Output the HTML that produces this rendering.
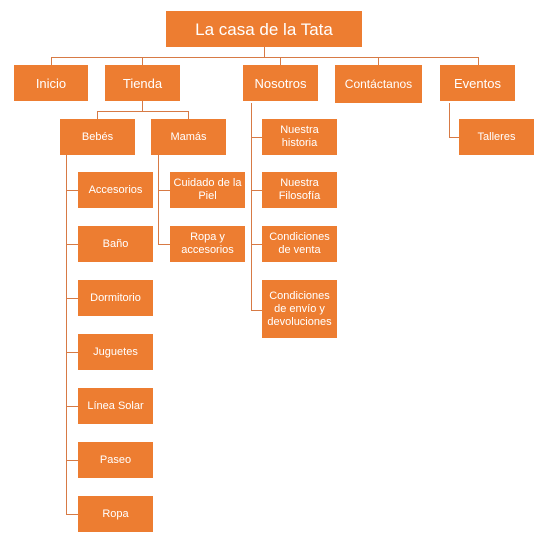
<!DOCTYPE html><html><head><meta charset="utf-8"><style>
body{margin:0;width:540px;height:537px;background:#fff;position:relative;font-family:"Liberation Sans",sans-serif;overflow:hidden}
.b{position:absolute;background:#ED7D31;color:#fff;display:flex;align-items:center;justify-content:center;text-align:center;font-size:11px;line-height:13px}
.l{position:absolute;background:#D77A45}
</style></head><body>
<div class="b" style="left:166px;top:11px;width:196px;height:36px;font-size:17px">La casa de la Tata</div>
<div class="l" style="left:264px;top:47px;width:1px;height:11px"></div>
<div class="l" style="left:51px;top:57px;width:428px;height:1px"></div>
<div class="l" style="left:51px;top:57px;width:1px;height:8px"></div>
<div class="l" style="left:142px;top:57px;width:1px;height:8px"></div>
<div class="l" style="left:280px;top:57px;width:1px;height:8px"></div>
<div class="l" style="left:378px;top:57px;width:1px;height:8px"></div>
<div class="l" style="left:478px;top:57px;width:1px;height:8px"></div>
<div class="b" style="left:14px;top:65px;width:74px;height:36px;font-size:13px">Inicio</div>
<div class="b" style="left:105px;top:65px;width:75px;height:36px;font-size:13px">Tienda</div>
<div class="b" style="left:243px;top:65px;width:75px;height:36px;font-size:13px">Nosotros</div>
<div class="b" style="left:335px;top:65px;width:87px;height:38px;font-size:12px">Contáctanos</div>
<div class="b" style="left:440px;top:65px;width:75px;height:36px;font-size:13px">Eventos</div>
<div class="l" style="left:142px;top:101px;width:1px;height:11px"></div>
<div class="l" style="left:97px;top:111px;width:92px;height:1px"></div>
<div class="l" style="left:97px;top:111px;width:1px;height:8px"></div>
<div class="l" style="left:188px;top:111px;width:1px;height:8px"></div>
<div class="b" style="left:60px;top:119px;width:75px;height:36px">Bebés</div>
<div class="b" style="left:151px;top:119px;width:75px;height:36px">Mamás</div>
<div class="l" style="left:66px;top:155px;width:1px;height:359px"></div>
<div class="l" style="left:158px;top:155px;width:1px;height:89px"></div>
<div class="l" style="left:251px;top:103px;width:1px;height:207px"></div>
<div class="l" style="left:449px;top:103px;width:1px;height:34px"></div>
<div class="l" style="left:449px;top:137px;width:10px;height:1px"></div>
<div class="b" style="left:459px;top:119px;width:75px;height:36px">Talleres</div>
<div class="l" style="left:66px;top:190px;width:12px;height:1px"></div><div class="b" style="left:78px;top:172px;width:75px;height:36px">Accesorios</div>
<div class="l" style="left:66px;top:244px;width:12px;height:1px"></div><div class="b" style="left:78px;top:226px;width:75px;height:36px">Baño</div>
<div class="l" style="left:66px;top:298px;width:12px;height:1px"></div><div class="b" style="left:78px;top:280px;width:75px;height:36px">Dormitorio</div>
<div class="l" style="left:66px;top:352px;width:12px;height:1px"></div><div class="b" style="left:78px;top:334px;width:75px;height:36px">Juguetes</div>
<div class="l" style="left:66px;top:406px;width:12px;height:1px"></div><div class="b" style="left:78px;top:388px;width:75px;height:36px">Línea Solar</div>
<div class="l" style="left:66px;top:460px;width:12px;height:1px"></div><div class="b" style="left:78px;top:442px;width:75px;height:36px">Paseo</div>
<div class="l" style="left:66px;top:514px;width:12px;height:1px"></div><div class="b" style="left:78px;top:496px;width:75px;height:36px">Ropa</div>
<div class="l" style="left:158px;top:190px;width:12px;height:1px"></div><div class="b" style="left:170px;top:172px;width:75px;height:36px">Cuidado de la Piel</div>
<div class="l" style="left:158px;top:244px;width:12px;height:1px"></div><div class="b" style="left:170px;top:226px;width:75px;height:36px">Ropa y accesorios</div>
<div class="l" style="left:251px;top:137px;width:11px;height:1px"></div><div class="b" style="left:262px;top:119px;width:75px;height:36px">Nuestra historia</div>
<div class="l" style="left:251px;top:190px;width:11px;height:1px"></div><div class="b" style="left:262px;top:172px;width:75px;height:36px">Nuestra Filosofía</div>
<div class="l" style="left:251px;top:244px;width:11px;height:1px"></div><div class="b" style="left:262px;top:226px;width:75px;height:36px">Condiciones de venta</div>
<div class="l" style="left:251px;top:310px;width:11px;height:1px"></div><div class="b" style="left:262px;top:280px;width:75px;height:58px">Condiciones de envío y devoluciones</div>
</body></html>
